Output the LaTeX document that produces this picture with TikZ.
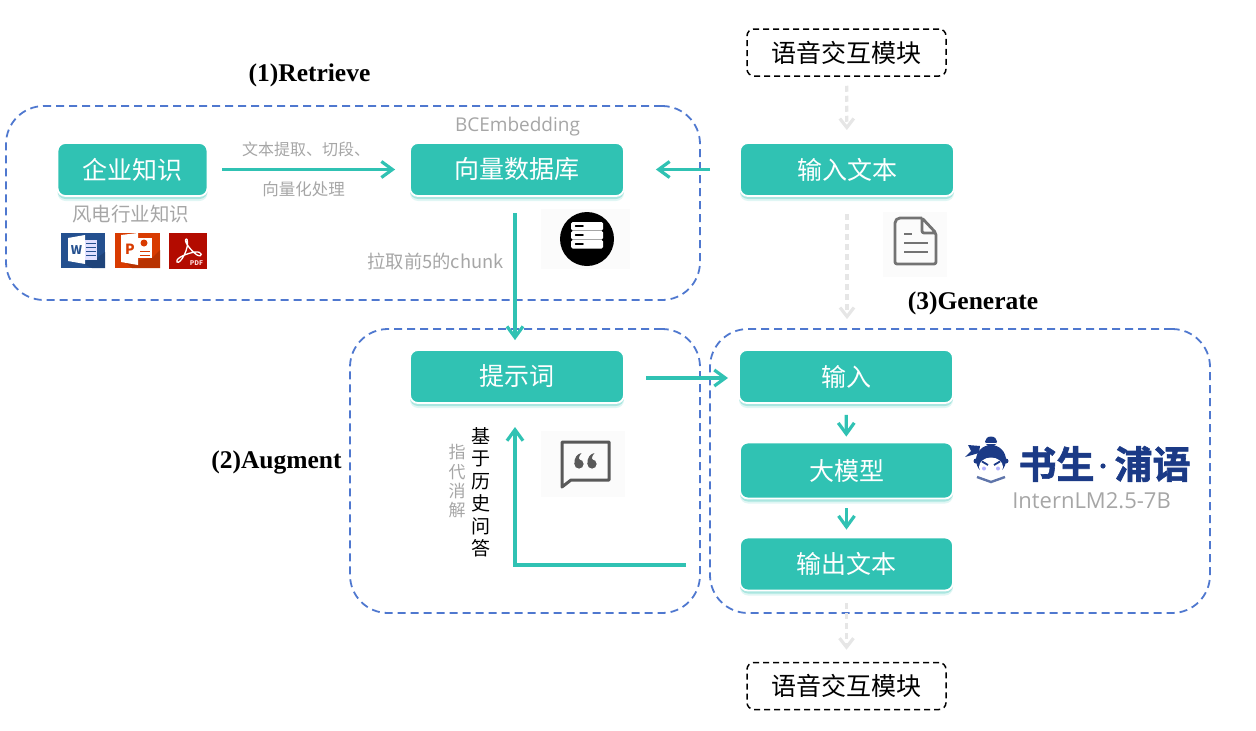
\documentclass[tikz,border=0pt]{standalone}
\usepackage{fontspec}
\setmainfont{Noto Sans CJK SC}
\newfontfamily\titlefont{Liberation Serif}
\newfontfamily\latinfont{Open Sans}
\newfontfamily\logofont[FakeBold=1.6]{Noto Sans CJK SC Bold}
\usetikzlibrary{arrows.meta,shadows}
\definecolor{tealbox}{HTML}{30C2B3}
\definecolor{bluedash}{HTML}{4F78CF}
\definecolor{graytext}{HTML}{A6A6A6}
\definecolor{arcgray}{HTML}{E6E6E6}
\definecolor{navylogo}{HTML}{1B3A86}
\definecolor{iconback}{HTML}{FBFBFB}
\definecolor{wordblue}{HTML}{24508F}
\definecolor{pptred}{HTML}{D83B01}
\definecolor{pdfred}{HTML}{B30B00}
\newcommand{\setsize}[2]{\fontsize{#1}{#2}\selectfont}
\tikzset{
  stagebox/.style={draw=bluedash, line width=1.8, dash pattern=on 8 off 5, rounded corners=38},
  tealnode/.style={draw=white, line width=1.8, fill=tealbox, text=white, rounded corners=8,
    general shadow={shadow yshift=5, opacity=.15, fill=tealbox},
    general shadow={shadow yshift=3, opacity=.3, fill=tealbox},
    minimum height=#1, inner sep=0, font=\setsize{25}{28}},
  tealnode/.default=53,
  voicenode/.style={draw=black, line width=1.5, dash pattern=on 6 off 4, rounded corners=7,
    minimum width=199, minimum height=47, inner sep=0, font=\setsize{25}{28}},
  stagetitle/.style={font=\titlefont\bfseries\setsize{25.5}{28}, inner sep=0},
  graylabel/.style={text=graytext, inner sep=0, font=\setsize{#1}{#1}},
  tealarc/.style={->, line width=3.2, tealbox, >={Straight Barb[length=11, width=16, line width=3.2]}},
  grayarc/.style={->, line width=3.2, arcgray, dash pattern=on 6 off 4, >={Straight Barb[length=9, width=14, line width=3.2]}},
}
\begin{document}
\begin{tikzpicture}[x=1pt, y=-1pt]
  \useasboundingbox (0,0) rectangle (1256,731);

  % Stages (outer)
  \node[stagebox, minimum width=694, minimum height=194] (retrievebox) at (353,203) {};
  \node[stagebox, minimum width=350, minimum height=284] (augmentbox) at (525,471) {};
  \node[stagebox, minimum width=500, minimum height=284] (generatebox) at (960,471) {};
  \node[stagetitle] (retrievetitle) at (309.5,75) {(1)Retrieve};
  \node[stagetitle] (augmenttitle) at (276.5,462) {(2)Augment};
  \node[stagetitle] (generatetitle) at (973,303) {(3)Generate};

  % Boxes
  \node[tealnode, minimum width=150] (qiye) at (132.5,169.5) {企业知识};
  \node[tealnode, minimum width=214] (vectordb) at (517,169.5) {向量数据库};
  \node[tealnode, minimum width=214] (inputtext) at (847,169.5) {输入文本};
  \node[tealnode, minimum width=214] (prompt) at (517,376.5) {提示词};
  \node[tealnode, minimum width=214] (inputbox) at (846,376.5) {输入};
  \node[tealnode=56, minimum width=213] (model) at (846.5,470.5) {大模型};
  \node[tealnode, minimum width=213] (outputtext) at (846.5,564) {输出文本};
  \node[voicenode] (voicetop) at (846.5,52.5) {语音交互模块};
  \node[voicenode] (voicebottom) at (846.5,686) {语音交互模块};

  % Labels
  \node[graylabel=19, font=\latinfont\setsize{19}{19}] (bcelabel) at (517.5,127) {BCEmbedding};
  \node[graylabel=19.5] (windlabel) at (130.5,214) {风电行业知识};
  \node[graylabel=16] (splitlabel) at (306,149) {文本提取、切段、};
  \node[graylabel=16.5] (vectorlabel) at (303.5,189) {向量化处理};
  \node[graylabel=18.3] (toplabel) at (435.5,261) {拉取前5的chunk};
  \node[graylabel=17, align=center, font=\setsize{17}{19.3}] (coreflabel) at (457,481.5) {指\\代\\消\\解};
  \node[align=center, inner sep=0, font=\setsize{19}{22.5}] (historylabel) at (481,492.5) {基\\于\\历\\史\\问\\答};

  % Arcs
  \coordinate (dbout) at (515,195);
  \coordinate (promptin) at (515,402);
  \coordinate (promptout) at (623,378);
  \coordinate (inputin) at (740,378);
  \coordinate (outleft) at (741,565);
  \coordinate (turn) at (515,565);
  \draw[tealarc, shorten <=14, shorten >=14] (qiye) -- (vectordb);
  \draw[tealarc, shorten <=29, shorten >=31] (inputtext.west) -- (vectordb.east);
  \draw[tealarc, shorten <=18, shorten >=9] (dbout) -- (dbout |- prompt.north);
  \draw[tealarc, shorten <=23, shorten >=12] (promptout) -- (inputin);
  \draw[tealarc, shorten <=11, shorten >=5] (inputbox) -- (model);
  \draw[tealarc, shorten <=9, shorten >=7] (model) -- (outputtext);
  \draw[tealarc, shorten <=55, shorten >=25] (outleft) -- (turn) -- (promptin);
  \draw[grayarc, shorten <=9, shorten >=12] (voicetop) -- (inputtext);
  \draw[grayarc, shorten <=17, shorten >=30] (inputtext) -- (inputbox.north -| inputtext);
  \draw[grayarc, shorten <=12, shorten >=12] (outputtext) -- (voicebottom);

  % Word, PowerPoint and PDF icons
  \fill[wordblue] (61,233) rectangle (105,268);
  \fill[wordblue!85!black] (80,262) -- (97,258) -- (105,252) -- (105,268) -- (92,268) -- cycle;
  \fill[white] (68,238) -- (85,235) -- (85,264) -- (68,261) -- cycle;
  \fill[white!88!blue] (85,240) rectangle (97,260);
  \foreach \yy in {243,247,251,255} \draw[wordblue, line width=.9] (86,\yy) -- (96,\yy);
  \node[text=wordblue, inner sep=0, font=\bfseries\setsize{12}{12}] (wordletter) at (76.5,250) {W};
  \fill[pptred] (115,233) rectangle (160,268);
  \fill[pptred!85!black] (125,262) -- (152,258) -- (160,250) -- (160,268) -- (132,268) -- cycle;
  \fill[white] (121,235) -- (138,233) -- (138,265) -- (121,262) -- cycle;
  \fill[white] (138,238) rectangle (152,258);
  \node[text=pptred, inner sep=0, font=\bfseries\setsize{14}{14}] (pptletter) at (130,249) {P};
  \fill[pptred] (144,243) circle (3.5);
  \foreach \yy in {251,255} \draw[pptred, line width=.9] (140,\yy) -- (150,\yy);
  \fill[pdfred] (169,233) rectangle (207,269);
  \draw[white, line width=1.3] (187,239) .. controls (182,239) and (190,250) .. (197,255)
    .. controls (203,258) and (203,251) .. (195,252) .. controls (188,253) and (175,258) .. (177,262)
    .. controls (180,265) and (190,248) .. (187,239);
  \node[text=white!85!red, inner sep=0, font=\bfseries\setsize{6.5}{6.5}] (pdfletters) at (196.5,263) {PDF};

  % Database icon
  \fill[iconback] (541,209) rectangle (630,269);
  \fill[black] (587,239) circle (27);
  \foreach \yy in {222,231,240} {
    \fill[white, rounded corners=1.5] (571,\yy) rectangle (603,\yy+8.5);
    \draw[black, line width=1.5, line cap=round] (575.5,\yy+4) -- (583,\yy+4);
  }

  % Document icon
  \fill[iconback] (883,212) rectangle (947,277);
  \draw[black!55, line width=2.8, line join=round, rounded corners=2]
    (922,218) -- (898,218) -- (895,221) -- (895,264) -- (936,264) -- (936,233) -- (922,218) -- (922,233) -- (936,233);
  \draw[black!55, line width=2.6] (904,234) -- (912,234) (904,243) -- (928,243) (904,252) -- (928,252);

  % Quote icon
  \fill[iconback] (541,431) rectangle (625,497);
  \draw[black!65, line width=3, line join=round] (562,442) -- (609,442) -- (609,480) -- (571,480) -- (562,487) -- cycle;
  \foreach \xx in {579,592} {
    \fill[black!65] (\xx,464) circle (4.6);
    \fill[black!65] (\xx-4.6,464) .. controls (\xx-5,458) and (\xx-2,454) .. (\xx+2.5,453)
      .. controls (\xx,456) and (\xx-1,459) .. (\xx+1,460) -- cycle;
  }

  % Logo
  \fill[navylogo] (991,441.5) ellipse (6 and 5);
  \draw[white, line width=.8] (986,443) -- (996,443);
  \fill[navylogo] (968,445) -- (980,446) -- (979,453) -- (965,457) -- (971,451) -- cycle;
  \fill[navylogo] (976,461) circle (2.5) (1006,461) circle (2.5);
  \fill[navylogo] (991,460) circle (15);
  \fill[white] (991,467) ellipse (12 and 9.5);
  \draw[navylogo, line width=1.8] (982,461.5) -- (988,465) (1000,461.5) -- (994,465);
  \fill[blue!30!white] (984,468.5) circle (2) (998,468.5) circle (2);
  \draw[navylogo!70!white, line width=2.4] (977,477) -- (991,482) -- (1005,477);
  \node[text=navylogo, inner sep=0, font=\logofont\setsize{38}{38}] (logoshu) at (1056.5,464) {书生};
  \fill[navylogo] (1103,466) circle (2.6);
  \node[text=navylogo, inner sep=0, font=\logofont\setsize{38}{38}] (logopu) at (1152.5,464) {浦语};
  \node[graylabel=22, font=\latinfont\setsize{22}{22}] (internlabel) at (1091.5,501) {InternLM2.5-7B};
\end{tikzpicture}
\end{document}
